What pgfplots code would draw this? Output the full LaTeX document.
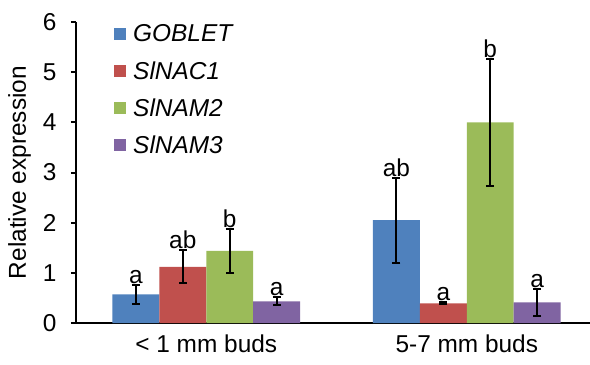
\documentclass[border=0pt]{standalone}
\usepackage{pgfplots}
\pgfplotsset{compat=1.18}
\usepackage{fontspec}
\setmainfont{Liberation Sans}
\definecolor{cblue}{HTML}{4F81BD}
\definecolor{cred}{HTML}{C0504D}
\definecolor{cgreen}{HTML}{9BBB59}
\definecolor{cpurple}{HTML}{8064A2}
\pgfplotsset{
  myerr/.style={error bars/.cd, y dir=both, y explicit,
    error bar style={black, line width=2bp},
    error mark options={black, line width=2bp, mark size=4bp, rotate=90}},
}
\begin{document}
\begin{tikzpicture}
\begin{axis}[
  scale only axis, width=514bp, height=301bp,
  xmin=-0.5, xmax=1.473, ymin=0, ymax=6,
  axis x line*=bottom, axis y line*=left,
  axis line style={-, line width=2bp, black},
  every tick/.style={black, line width=2bp},
  font=\fontsize{24.5}{29}\selectfont,
  /pgf/number format/assume math mode=true,
  ytick={0,1,2,3,4,5,6},
  tick align=outside,
  major tick length=5bp,
  yticklabel style={xshift=-11bp},
  xtick={0,1}, xticklabels={< 1 mm buds, 5-7 mm buds},
  x tick style={draw=none},
  extra x ticks={-0.5,0.5,1.5}, extra x tick labels={},
  extra x tick style={major tick length=7bp, tick style={draw=black, line width=2bp}},
  xticklabel style={yshift=-3bp},
  ylabel={Relative expression},
  ylabel style={yshift=5bp},
  legend style={at={(0.074,0.998)}, anchor=north west, draw=none, fill=none,
    font=\itshape\fontsize{24.5}{29}\selectfont, row sep=14bp, column sep=5bp,
    inner sep=0pt, nodes={inner sep=2bp}},
  legend cell align=left,
  legend image code/.code={\fill[#1] (0bp,-6bp) rectangle (12bp,6bp);},
]
\addplot[ybar, bar width=0.18, bar shift=0, fill=cblue, draw=none, myerr]
  coordinates {(-0.27,0.57) +- (0,0.19) (0.73,2.05) +- (0,0.85)};
\addplot[ybar, bar width=0.18, bar shift=0, fill=cred, draw=none, myerr]
  coordinates {(-0.09,1.12) +- (0,0.33) (0.91,0.39) +- (0,0.02)};
\addplot[ybar, bar width=0.18, bar shift=0, fill=cgreen, draw=none, myerr]
  coordinates {(0.09,1.44) +- (0,0.44) (1.09,4.00) +- (0,1.27)};
\addplot[ybar, bar width=0.18, bar shift=0, fill=cpurple, draw=none, myerr]
  coordinates {(0.27,0.43) +- (0,0.08) (1.27,0.41) +- (0,0.27)};
\legend{GOBLET, SlNAC1, SlNAM2, SlNAM3}
\addplot[only marks, mark=none, forget plot, nodes near coords,
  point meta=explicit symbolic,
  nodes near coords style={anchor=south, inner sep=1bp, font=\fontsize{24.5}{29}\selectfont}]
  coordinates {(-0.27,0.76)[a] (-0.09,1.45)[ab] (0.09,1.88)[b] (0.27,0.51)[a]
               (0.73,2.90)[ab] (0.91,0.41)[a] (1.09,5.27)[b] (1.27,0.68)[a]};
\end{axis}
\pgfresetboundingbox
\path[use as bounding box] ([xshift=-76bp,yshift=-42bp]current axis.south west) rectangle ([yshift=22bp]current axis.north east);
\end{tikzpicture}
\end{document}
